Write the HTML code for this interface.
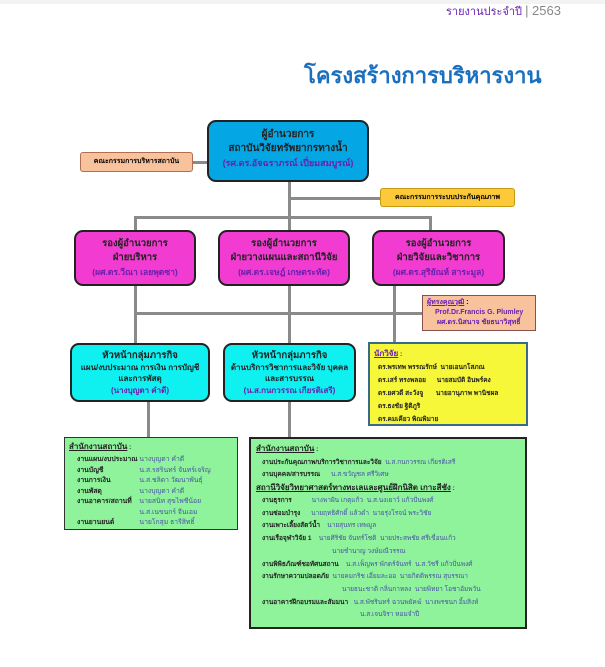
<!DOCTYPE html>
<html><head><meta charset="utf-8"><style>
*{margin:0;padding:0;box-sizing:border-box}
body{width:605px;height:667px;background:#fff;position:relative;overflow:hidden;font-family:"Liberation Sans",sans-serif}
.a{position:absolute}
.ln{position:absolute;background:#8a8a8a}
.bx{position:absolute;text-align:center;font-weight:bold;color:#222;border:2px solid #222;border-radius:9px}
.p{color:#6a1fb0}
.sm{font-size:6.5px;line-height:9.5px;font-weight:bold;color:#222}
.n{color:#4a52a8;font-weight:normal}
</style></head><body>
<div class="a" style="left:0;top:0;width:605px;height:4px;background:#f3f3f3"></div>
<div class="a" style="left:446px;top:2px;font-size:11px;color:#6a1fb0;white-space:nowrap">รายงานประจำปี <span style="color:#888;font-size:13px">| 2563</span></div>
<div class="a" style="left:304px;top:58px;font-size:22px;font-weight:bold;color:#1b6fbf;white-space:nowrap">โครงสร้างการบริหารงาน</div>

<div class="ln" style="left:288px;top:180px;width:3px;height:258px"></div>
<div class="ln" style="left:192px;top:161px;width:16px;height:3px"></div>
<div class="ln" style="left:289px;top:197px;width:92px;height:3px"></div>
<div class="ln" style="left:134px;top:216px;width:298px;height:3px"></div>
<div class="ln" style="left:134px;top:216px;width:3px;height:130px"></div>
<div class="ln" style="left:429px;top:216px;width:3px;height:16px"></div>
<div class="ln" style="left:134px;top:312px;width:290px;height:3px"></div>
<div class="ln" style="left:393px;top:284px;width:3px;height:60px"></div>
<div class="ln" style="left:147px;top:400px;width:3px;height:38px"></div>

<div class="bx" style="left:207px;top:120px;width:162px;height:62px;background:#04a6e4;font-size:10px;line-height:14px;padding-top:6px">ผู้อำนวยการ<br>สถาบันวิจัยทรัพยากรทางน้ำ<br><span class="p" style="font-size:9px">(รศ.ดร.อัจฉราภรณ์ เปี่ยมสมบูรณ์)</span></div>
<div class="a" style="left:80px;top:152px;width:113px;height:20px;background:#f8c29c;border:1px solid #b07050;border-radius:3px;font-size:7px;font-weight:bold;text-align:center;line-height:18px">คณะกรรมการบริหารสถาบัน</div>
<div class="a" style="left:380px;top:188px;width:135px;height:19px;background:#fbc93a;border:1px solid #c49a10;border-radius:3px;font-size:7px;font-weight:bold;text-align:center;line-height:17px">คณะกรรมการระบบประกันคุณภาพ</div>

<div class="bx" style="left:74px;top:230px;width:122px;height:56px;background:#f23bd0;font-size:9.5px;line-height:14px;padding-top:5px">รองผู้อำนวยการ<br>ฝ่ายบริหาร<br><span class="p" style="font-size:8.5px">(ผศ.ดร.วีณา เลยพุดซา)</span></div>
<div class="bx" style="left:218px;top:230px;width:132px;height:56px;background:#f23bd0;font-size:9.5px;line-height:14px;padding-top:5px">รองผู้อำนวยการ<br>ฝ่ายวางแผนและสถานีวิจัย<br><span class="p" style="font-size:8.5px">(ผศ.ดร.เจษฎ์ เกษตระทัต)</span></div>
<div class="bx" style="left:372px;top:230px;width:133px;height:56px;background:#f23bd0;font-size:9.5px;line-height:14px;padding-top:5px">รองผู้อำนวยการ<br>ฝ่ายวิจัยและวิชาการ<br><span class="p" style="font-size:8.5px">(ผศ.ดร.สุริยัณห์ สาระมูล)</span></div>

<div class="a" style="left:422px;top:295px;width:114px;height:36px;background:#f8c29c;border:1px solid #8a5050;font-size:7px;font-weight:bold;line-height:10px;padding:2px 4px"><u class="p">ผู้ทรงคุณวุฒิ</u> :<br><span class="p" style="padding-left:8px">Prof.Dr.Francis G. Plumley</span><br><span class="p" style="padding-left:10px">ผศ.ดร.นิสนาจ ชัยธนาวิสุทธิ์</span></div>

<div class="bx" style="left:70px;top:343px;width:140px;height:59px;background:#0ff0f0;font-size:8px;line-height:11.5px;padding-top:5px"><span style="font-size:9.5px">หัวหน้ากลุ่มภารกิจ</span><br>แผน/งบประมาณ การเงิน การบัญชี<br>และการพัสดุ<br><span class="p">(นางบุญตา คำดี)</span></div>
<div class="bx" style="left:223px;top:343px;width:133px;height:59px;background:#0ff0f0;font-size:8px;line-height:11.5px;padding-top:5px"><span style="font-size:9.5px">หัวหน้ากลุ่มภารกิจ</span><br>ด้านบริการวิชาการและวิจัย บุคคล<br>และสารบรรณ<br><span class="p">(น.ส.กนกวรรณ เกียรติเสรี)</span></div>

<div class="a sm" style="left:368px;top:342px;width:160px;height:84px;background:#f7f73a;border:2px solid #3a6a8a;padding:3px 4px;font-size:6.5px;line-height:13px"><u class="p" style="font-size:8px">นักวิจัย</u> :<br>
<div style="padding-left:4px;line-height:13px">ดร.พรเทพ พรรณรักษ์ &nbsp;นายเอนกโสภณ<br>ดร.เสร์ ทรงพลอย &nbsp;&nbsp;&nbsp;&nbsp;&nbsp;นายสมบัติ อินพร์คง<br>ดร.ยศวดี สะวังจู &nbsp;&nbsp;&nbsp;&nbsp;&nbsp;&nbsp;นายอานุภาพ พานิชผล<br>ดร.ธงชัย ฐิติภูริ<br>ดร.คมเคียว พิณพิมาย</div></div>

<div class="a sm" style="left:64px;top:437px;width:174px;height:93px;background:#8ef39a;border:1px solid #333;padding:3px 4px;line-height:11px"><u style="font-size:8px">สำนักงานสถาบัน</u> :
<table style="font-size:6.8px;line-height:10.5px;border-collapse:collapse;margin-left:8px;margin-top:2px"><tr><td>งานแผน/งบประมาณ&nbsp;</td><td class="n">นางบุญตา คำดี</td></tr><tr><td>งานบัญชี</td><td class="n">น.ส.รสรินทร์ จันทร์เจริญ</td></tr><tr><td>งานการเงิน</td><td class="n">น.ส.ชลิดา วัฒนาพันธุ์</td></tr><tr><td>งานพัสดุ</td><td class="n">นางบุญตา คำดี</td></tr><tr><td>งานอาคาร/สถานที่</td><td class="n">นายสนิท สุขไพชีน้อย</td></tr><tr><td></td><td class="n">น.ส.เนขนกร์ จีนเอม</td></tr><tr><td>งานยานยนต์</td><td class="n">นายโกสุม ธารีสิทธิ์</td></tr></table></div>

<div class="a sm" style="left:249px;top:437px;width:278px;height:192px;background:#8ef39a;border:2px solid #222;padding:4px 5px;font-size:6.5px;line-height:12.5px">
<u style="font-size:8px">สำนักงานสถาบัน</u> :<br>
<div style="padding-left:6px">งานประกันคุณภาพ/บริการวิชาการและวิจัย &nbsp;<span class="n">น.ส.กนกวรรณ เกียรติเสรี</span><br>งานบุคคล/สารบรรณ &nbsp;&nbsp;&nbsp;&nbsp;&nbsp;<span class="n">น.ส.ขวัญชล ศรีวิเศษ</span></div>
<u style="font-size:8px">สถานีวิจัยวิทยาศาสตร์ทางทะเลและศูนย์ฝึกนิสิต เกาะสีชัง</u> :<br>
<div style="padding-left:6px;line-height:12.7px">งานธุรการ &nbsp;&nbsp;&nbsp;&nbsp;&nbsp;&nbsp;&nbsp;&nbsp;&nbsp;&nbsp;<span class="n">นางพาฝัน เกตุแก้ว &nbsp;น.ส.นงเยาว์ แก้วปั่นพงศ์</span><br>งานซ่อมบำรุง &nbsp;&nbsp;&nbsp;&nbsp;&nbsp;<span class="n">นายฤทธิศักดิ์ แล้วดำ &nbsp;นายรุ่งโรจน์ พระวิชัย</span><br>งานเพาะเลี้ยงสัตว์น้ำ &nbsp;&nbsp;&nbsp;<span class="n">นายสุนทร เทพมูล</span><br>งานเรือจุฬาวิจัย 1 &nbsp;&nbsp;&nbsp;<span class="n">นายศิริชัย จันทร์โชติ &nbsp;นายประสพชัย ศรีเขื่อนแก้ว</span><br><span class="n" style="padding-left:70px">นายชำนาญ วงษ์มณีวรรณ</span><br>งานพิพิธภัณฑ์ชอทัศนสถาน &nbsp;&nbsp;&nbsp;<span class="n">น.ส.เพ็ญพร พักตร์จันทร์ &nbsp;น.ส.วัชรี แก้วปั่นพงศ์</span><br>งานรักษาความปลอดภัย &nbsp;<span class="n">นายคมกริช เอี่ยมละออ &nbsp;นายกิตติพรรณ สุบรรณา</span><br><span class="n" style="padding-left:80px">นายธนะชาติ กลิ่นกาหลง &nbsp;นายพิทยา โอชาอัมพวัน</span><br>งานอาคารฝึกอบรมและสัมมนา &nbsp;&nbsp;<span class="n">น.ส.พัชรินทร์ ฉวนพยัคฆ์ &nbsp;นางพรชนก อิ้มสิงห์</span><br><span class="n" style="padding-left:98px">น.ส.เจนจิรา หอมจำปี</span></div>
</div>
</body></html>
